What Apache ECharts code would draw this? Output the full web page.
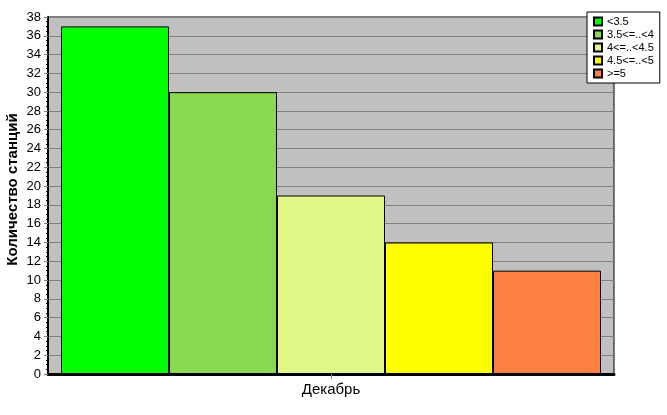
<!DOCTYPE html>
<html><head><meta charset="utf-8">
<script src="https://cdn.jsdelivr.net/npm/echarts@6/dist/echarts.min.js"></script>
<style>html,body{margin:0;padding:0;background:#fff}#c{width:667px;height:415px}</style>
</head><body><div id="c"></div>
<script>
const categories = ["Декабрь"];
const seriesNames = ["<3.5", "3.5<=..<4", "4<=..<4.5", "4.5<=..<5", ">=5"];
const seriesValues = [[37], [30], [19], [14], [11]];
const seriesColors = ["#00FF00", "#88D850", "#E0F888", "#FFFF00", "#FF8040"];
const yAxisName = "Количество станций";

const chart = echarts.init(document.getElementById('c'), null, {renderer: 'canvas'});
const font = 'Liberation Sans, Arial, sans-serif';
chart.setOption({
  animation: false,
  backgroundColor: '#fff',
  textStyle: {fontFamily: font},
  grid: {left: 48, right: 53, top: 17, bottom: 41, outerBoundsMode: 'none', containLabel: false, show: true, backgroundColor: '#C0C0C0', borderColor: '#000', borderWidth: 1},
  legend: {
    orient: 'vertical', left: 587, top: 12, backgroundColor: '#fff', borderColor: '#000', borderWidth: 1,
    padding: [4, 6, 4, 6], itemWidth: 8, itemHeight: 8, itemGap: 2,
    textStyle: {fontSize: 11, color: '#000', fontFamily: font},
    data: seriesNames.map(n => ({name: n, icon: 'rect'}))
  },
  xAxis: {
    type: 'category', data: categories,
    axisLine: {lineStyle: {color: '#000', width: 3}},
    axisTick: {show: true, alignWithLabel: true, length: 5, lineStyle: {color: '#808080'}},
    axisLabel: {fontSize: 15, color: '#000', margin: 8}
  },
  yAxis: {
    type: 'value', min: 0, max: 38, interval: 2,
    name: yAxisName, nameLocation: 'middle', nameGap: 28, nameMoveOverlap: false,
    nameTextStyle: {fontSize: 15, fontWeight: 'bold', color: '#000', padding: [0, 0, 0, 12]},
    axisLine: {show: true, lineStyle: {color: '#000', width: 2}},
    axisTick: {show: true, length: 4, lineStyle: {color: '#808080'}},
    minorTick: {show: true, splitNumber: 4, length: 2, lineStyle: {color: '#000'}},
    axisLabel: {fontSize: 13, color: '#000', margin: 7},
    splitLine: {show: true, lineStyle: {color: '#808080', width: 1}}
  },
  series: seriesNames.map((n, i) => ({
    name: n, type: 'bar', data: seriesValues[i],
    barGap: '0%', barWidth: 108,
    itemStyle: {color: seriesColors[i], borderColor: '#000', borderWidth: 1}
  }))
});
</script></body></html>
